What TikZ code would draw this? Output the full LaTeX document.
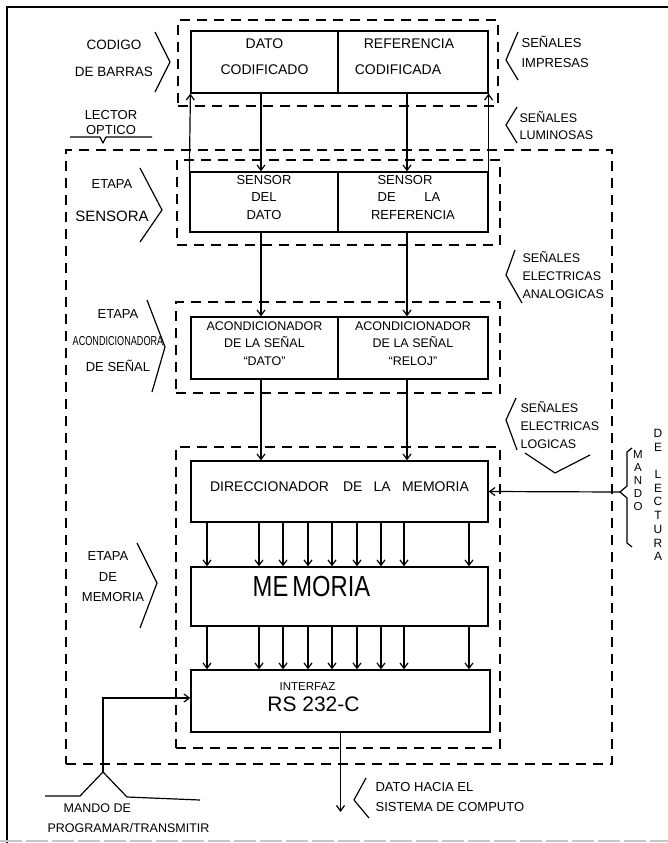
\documentclass[tikz,border=0pt]{standalone}
\usepackage{fontspec}
\usepackage{graphicx}
\setmainfont{Liberation Sans}
\usetikzlibrary{arrows.meta,fit}
\begin{document}
\begin{tikzpicture}[x=1pt,y=-1pt, line width=1.2pt,
  box/.style={draw, inner sep=0pt, align=center, font=\fontsize{13}{17.5}\selectfont},
  dbox/.style={draw, dash pattern=on 10pt off 7pt, inner sep=0pt, line width=1.3pt},
  arr/.style={-{Straight Barb[length=5.5pt,width=8pt]}, line width=1.2pt},
  lbl/.style={align=center, inner sep=0pt, font=\fontsize{13}{26}\selectfont},
  rlbl/.style={align=left, anchor=west, inner sep=0pt, font=\fontsize{12.5}{18}\selectfont},
  brk/.style={line width=1.2pt, line join=round}]
\useasboundingbox (0,0) rectangle (668,843);
% page frame
\draw (7,843) -- (7,7) -- (668,7);
\draw[gray!45, dash pattern=on 22pt off 4pt, line width=1.5pt] (0,841) -- (668,841);

% dashed groups
\node[dbox, fit={(178,20) (498,106)}] (cbg) {};
\node[dbox, fit={(66,150) (612,764)}] (log) {};
\node[dbox, fit={(177,160) (500,245)}] (sbg) {};
\node[dbox, fit={(176,302) (500,393)}] (abg) {};
\node[dbox, fit={(176,447) (500,748)}] (mbg) {};

% boxes
\node[box, fit={(191,31) (338,93)}, font=\fontsize{14}{26}\selectfont] (dc) {DATO\\CODIFICADO};
\node[box, fit={(338,31) (488,93)}, font=\fontsize{14}{26}\selectfont] (rc) {REFERENCIA\hspace{8pt}\null\\CODIFICADA\hspace{30pt}\null};
\node[box, fit={(190,172) (338,232)}] (sd) {SENSOR\\DEL\\DATO};
\node[box, fit={(338,172) (488,232)}] (sr) {SENSOR\hspace{16pt}\null\\DE\hspace{2.2em}LA\hspace{8pt}\null\\REFERENCIA};
\node[box, fit={(191,317) (338,379)}, font=\fontsize{12.5}{17.5}\selectfont] (ad) {ACONDICIONADOR\\DE LA SEÑAL\\“DATO”};
\node[box, fit={(338,317) (488,379)}, font=\fontsize{12.5}{17.5}\selectfont] (ar) {ACONDICIONADOR\\DE LA SEÑAL\\“RELOJ”};
\node[box, fit={(191,461) (488,522)}, font=\fontsize{14}{17}\selectfont] (dir) {DIRECCIONADOR\hspace{1em}DE\hspace{0.8em}LA\hspace{0.8em}MEMORIA};
\node[box, fit={(191,567) (488,626)}, font=\fontsize{29}{30}\selectfont] (mem) {\scalebox{0.82}[1]{ME\,MORIA}\hspace{56pt}\null};
\node[box, fit={(191,670) (490,732)}] (inf) {{\fontsize{11.5}{12}\selectfont INTERFAZ}\hspace{66pt}\null\\[3pt]{\fontsize{21}{22}\selectfont RS 232-C}\hspace{54pt}\null};

% signal arrows
\draw[arr] ([xshift=-3.5pt]dc.south) -- ([xshift=-3.5pt]dc.south |- sd.north);
\draw[arr] ([xshift=-6pt]rc.south) -- ([xshift=-6pt]rc.south |- sr.north);
\draw[arr] (sd.north west) -- (dc.south west);
\draw[arr] (sr.north east) -- (rc.south east);
\draw[arr] ([xshift=-3pt]sd.south) -- ([xshift=-3pt]sd.south |- ad.north);
\draw[arr] ([xshift=-6pt]sr.south) -- ([xshift=-6pt]sr.south |- ar.north);
\draw[arr] ([xshift=-3.5pt]ad.south) -- ([xshift=-3.5pt]ad.south |- dir.north);
\draw[arr] ([xshift=-6pt]ar.south) -- ([xshift=-6pt]ar.south |- dir.north);
\foreach \x in {207,259,283,308,332,357,381,404,469} {
  \draw[arr] (dir.south -| \x,0) -- (mem.north -| \x,0);
  \draw[arr] (mem.south -| \x,0) -- (inf.north -| \x,0);
}

% mando de lectura
\coordinate (ml) at (620,492);
\draw[brk] (632,448) -- (627,452) -- (627,486) -- (ml) -- (627,498) -- (627,543) -- (632,547);
\draw[arr] (ml) -- (dir.east);
\node[inner sep=0pt, align=center, font=\fontsize{11.5}{13}\selectfont] (mando) at (638,481) {M\\A\\N\\D\\O};
\node[inner sep=0pt, align=center, font=\fontsize{12}{13.7}\selectfont] (delect) at (658,495) {D\\E\\ \\L\\E\\C\\T\\U\\R\\A};

% mando de programar/transmitir
\coordinate (mp) at (103,772);
\draw[brk] (45,796) -- (80,796) -- (mp) -- (127,797) -- (200,800);
\draw[arr] (mp) |- ([yshift=3pt]inf.west);
\node[inner sep=0pt, align=left, anchor=west, font=\fontsize{12.5}{20}\selectfont] (mpt) at (47,818) {\hspace*{16pt}MANDO DE\\PROGRAMAR/TRANSMITIR};

% output
\coordinate (out) at (inf.south |- 0,812);
\draw[arr] (inf.south) -- (out);
\draw[brk] (366,778) -- (354,800) -- (369,818);
\node[rlbl, font=\fontsize{13}{20}\selectfont] (dout) at (375,797) {DATO HACIA EL\\SISTEMA DE COMPUTO};

% left labels
\node[lbl, font=\fontsize{13.5}{27}\selectfont] (cbl) at (114,58) {CODIGO\\DE BARRAS};
\draw[brk] (155,32) -- (170,62) -- (155,92);
\node[inner sep=0pt, align=center, anchor=south, font=\fontsize{13}{15.5}\selectfont] (lect) at (111,135.5) {LECTOR\\OPTICO};
\draw[brk] (70,137) -- (100,137) -- (103,143) -- (106,137) -- (152,137);
\node[lbl, font=\fontsize{13}{33}\selectfont] (esl) at (112,201) {ETAPA\\{\fontsize{15}{16}\selectfont SENSORA}};
\draw[brk] (140,168) -- (162,210) -- (140,242);
\node[lbl, font=\fontsize{13}{26.5}\selectfont] (eal) at (118,341) {ETAPA\\\scalebox{0.7}[1]{ACONDICIONADORA}\\DE SEÑAL};
\draw[brk] (147,300) -- (165,347) -- (152,392);
\node[lbl, font=\fontsize{13}{20.5}\selectfont] (eml) at (108,577) {ETAPA\\DE\\\hspace*{10pt}MEMORIA};
\draw[brk] (137,543) -- (157,583) -- (140,628);

% right labels
\node[rlbl, font=\fontsize{13}{20}\selectfont] (sim) at (521,52) {SEÑALES\\IMPRESAS};
\draw[brk] (518,32) -- (506,60) -- (518,80);
\node[rlbl, font=\fontsize{12.5}{17}\selectfont] (slu) at (519,126) {SEÑALES\\LUMINOSAS};
\draw[brk] (517,107) -- (506,125) -- (517,143);
\node[rlbl] (sea) at (522,275) {SEÑALES\\ELECTRICAS\\ANALOGICAS};
\draw[brk] (515,250) -- (506,275) -- (522,303);
\node[rlbl] (sel) at (520,425) {SEÑALES\\ELECTRICAS\\LOGICAS};
\draw[brk] (516,398) -- (506,420) -- (517,450);
\draw[brk] (525,453) -- (555,473) -- (590,455);
\end{tikzpicture}
\end{document}
